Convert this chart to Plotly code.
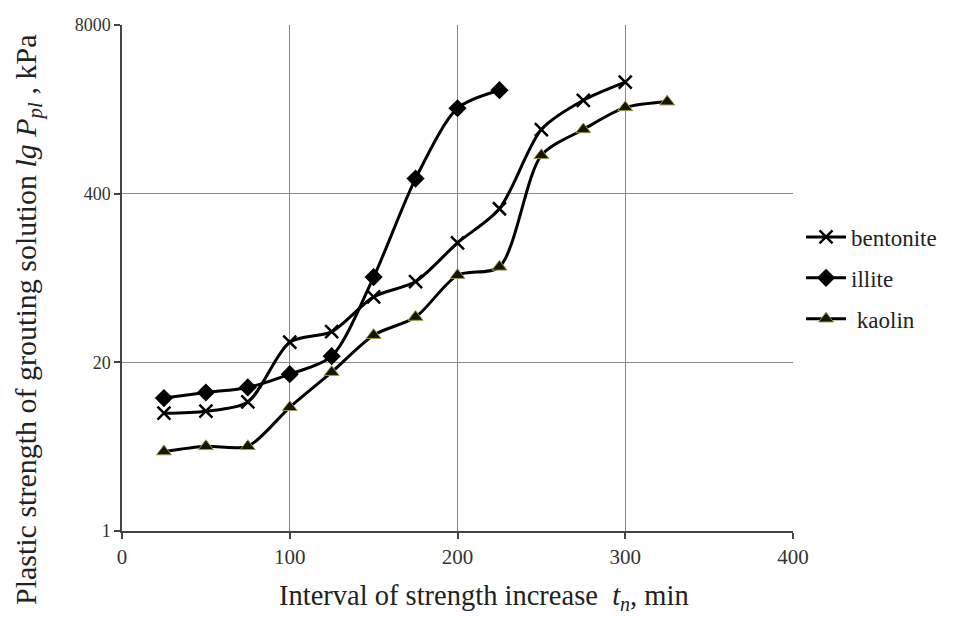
import plotly.graph_objects as go

x_bentonite = [25, 50, 75, 100, 125, 150, 175, 200, 225, 250, 275, 300]
y_bentonite = [8.1, 8.4, 9.9, 28.6, 34.5, 64, 84, 167, 306, 1250, 2100, 2900]

x_illite = [25, 50, 75, 100, 125, 150, 175, 200, 225]
y_illite = [10.6, 11.7, 12.8, 16.2, 22.3, 91, 523, 1824, 2513]

x_kaolin = [25, 50, 75, 100, 125, 150, 175, 200, 225, 250, 275, 300, 325]
y_kaolin = [4.1, 4.5, 4.5, 9.0, 16.8, 32.4, 44.7, 94, 109, 790, 1250, 1850, 2050]

y_ticks = [1, 20, 400, 8000]
x_ticks = [0, 100, 200, 300, 400]

x_title = "Interval of strength increase  <i>t<sub>n</sub></i>, min"
y_title = "Plastic strength of grouting solution <i>lg P<sub>pl</sub></i> , kPa"

font_family = "Liberation Serif, Times New Roman, serif"

fig = go.Figure()

fig.add_trace(go.Scatter(
    x=x_bentonite, y=y_bentonite, name="bentonite", mode="lines+markers",
    line=dict(color="black", width=3, shape="spline", smoothing=0.8),
    marker=dict(symbol="x-thin", size=13, line=dict(color="black", width=2.5)),
    legendgroup="b",
))
fig.add_trace(go.Scatter(
    x=x_illite, y=y_illite, name="illite", mode="lines+markers",
    line=dict(color="black", width=3, shape="spline", smoothing=0.8),
    marker=dict(symbol="diamond", size=14, color="black"),
    legendgroup="i",
))
fig.add_trace(go.Scatter(
    x=x_kaolin, y=y_kaolin, name=" kaolin", mode="lines+markers",
    line=dict(color="black", width=3, shape="spline", smoothing=0.8),
    marker=dict(symbol="triangle-up", size=13, color="#151500",
                line=dict(color="#9c9c50", width=1)),
    legendgroup="k",
))

fig.update_layout(
    width=969, height=617,
    margin=dict(l=114, r=184, t=17, b=94, autoexpand=False),
    paper_bgcolor="white", plot_bgcolor="white",
    font=dict(family=font_family, size=18, color="#222"),
    showlegend=True,
    legend=dict(x=1.012, y=0.5, xanchor="left", yanchor="middle",
                font=dict(family=font_family, size=23, color="#222"),
                traceorder="grouped", tracegroupgap=8,
                itemwidth=40,
                bgcolor="rgba(0,0,0,0)"),
    xaxis=dict(
        range=[0, 400], tickvals=x_ticks, ticktext=[str(v) for v in x_ticks],
        showgrid=True, gridcolor="#8a8a8a", gridwidth=1.3,
        showline=True, linecolor="#444", linewidth=1.5,
        ticks="outside", ticklen=6, tickcolor="#444", tickwidth=1.5,
        zeroline=False,
        tickfont=dict(family=font_family, size=21, color="#333"),
    ),
    yaxis=dict(
        type="log", range=[0, 3.90309],
        tickvals=y_ticks, ticktext=[str(v) for v in y_ticks],
        showgrid=True, gridcolor="#8a8a8a", gridwidth=1.3,
        showline=True, linecolor="#444", linewidth=1.5,
        ticks="outside", ticklen=6, tickcolor="#444", tickwidth=1.5,
        zeroline=False,
        tickfont=dict(family=font_family, size=18, color="#333"),
    ),
    annotations=[
        dict(text=x_title, xref="paper", yref="paper", x=0.5395, y=-0.1324,
             xanchor="center", yanchor="middle", showarrow=False,
             font=dict(family=font_family, size=28.5, color="#222")),
        dict(text=y_title, xref="paper", yref="paper", x=-0.140, y=0.417,
             xanchor="center", yanchor="middle", showarrow=False, textangle=-90,
             font=dict(family=font_family, size=30, color="#222")),
    ],
)

fig.write_html("out.html")
